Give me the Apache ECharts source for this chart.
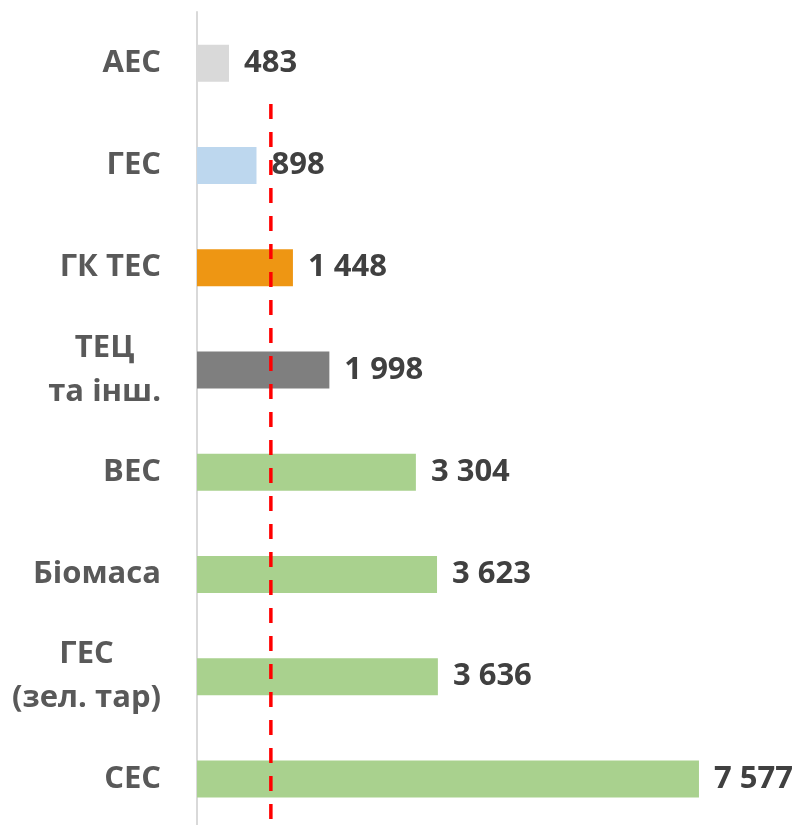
<!DOCTYPE html>
<html>
<head>
<meta charset="utf-8">
<script src="https://cdn.jsdelivr.net/npm/echarts@6/dist/echarts.min.js"></script>
<style>
  html, body { margin: 0; padding: 0; background: #fff; }
  #chart { width: 800px; height: 825px; }
</style>
</head>
<body>
<div id="chart"></div>
<script>
// categories, top to bottom
var categories = ['АЕС', 'ГЕС', 'ГК ТЕС', 'ТЕЦ\nта інш.', 'ВЕС', 'Біомаса', 'ГЕС\n(зел. тар)', 'СЕС'];
var values = [483, 898, 1448, 1998, 3304, 3623, 3636, 7577];
var barColors = ['#D9D9D9', '#BDD7EE', '#EE9613', '#7F7F7F', '#A9D18E', '#A9D18E', '#A9D18E', '#A9D18E'];
// red dashed reference level
var refValue = 1115;
var refLine = [[refValue, 0.9], [refValue, 8]];

var chart = echarts.init(document.getElementById('chart'));

function fmt(v) {
  return String(v).replace(/\B(?=(\d{3})+(?!\d))/g, ' ');
}

chart.setOption({
  animation: false,
  grid: {
    left: 197,
    top: 12,
    width: 530,
    height: 818,
    outerBoundsMode: 'none',
    containLabel: false
  },
  xAxis: {
    type: 'value',
    min: 0,
    max: 8000,
    show: false
  },
  yAxis: [
    {
      type: 'category',
      inverse: true,
      data: categories,
      axisLine: { show: true, lineStyle: { color: '#D9D9D9', width: 2 } },
      axisTick: { show: false },
      axisLabel: {
        margin: 36,
        formatter: function (v) {
          return v.split('\n').map(function (s) { return '{a|' + s + '}'; }).join('\n');
        },
        rich: {
          a: {
            align: 'center',
            fontFamily: 'Open Sans',
            fontWeight: 'bold',
            fontSize: 31,
            lineHeight: 44,
            color: '#595959'
          }
        }
      }
    },
    {
      type: 'value',
      min: 0,
      max: 8,
      inverse: true,
      show: false
    }
  ],
  series: [
    {
      type: 'bar',
      data: values.map(function (v, i) {
        return { value: v, itemStyle: { color: barColors[i] } };
      }),
      barWidth: 37,
      label: {
        show: true,
        position: 'right',
        distance: 15,
        formatter: function (p) { return fmt(p.value); },
        fontFamily: 'Open Sans',
        fontWeight: 'bold',
        fontSize: 31,
        color: '#404040'
      }
    },
    {
      type: 'line',
      yAxisIndex: 1,
      data: refLine,
      symbol: 'none',
      lineStyle: { color: '#FF0000', width: 3.5, type: [15, 13] },
      z: 5
    }
  ]
});
</script>
</body>
</html>
